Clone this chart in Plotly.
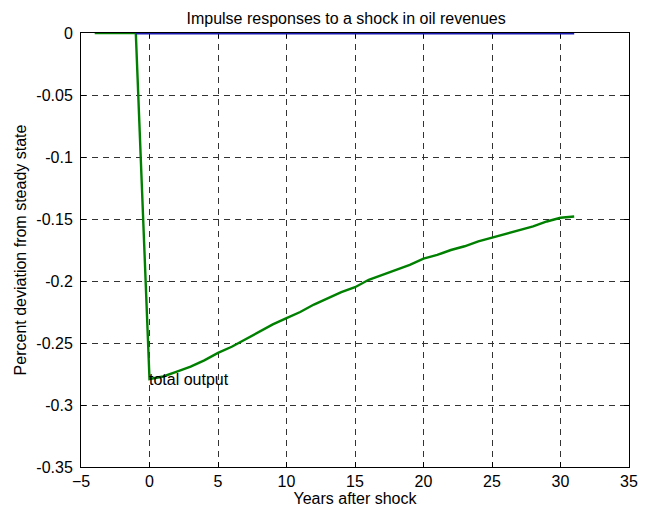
import plotly.graph_objects as go

pre_x = [-4, -3, -2, -1]
pre_y = [0, 0, 0, 0]
years = list(range(0, 32))
output = [-0.279, -0.277, -0.273, -0.269, -0.264, -0.258, -0.253, -0.247, -0.241, -0.235,
          -0.230, -0.225, -0.219, -0.214, -0.209, -0.205, -0.199, -0.195, -0.191, -0.187,
          -0.182, -0.179, -0.175, -0.172, -0.168, -0.165, -0.162, -0.159, -0.156, -0.152,
          -0.149, -0.148]
zero_x = [-1, 31]
zero_y = [0, 0]
xticks = [-5, 0, 5, 10, 15, 20, 25, 30, 35]
yticks = [0, -0.05, -0.1, -0.15, -0.2, -0.25, -0.3, -0.35]
ytick_text = ["0", "-0.05", "-0.1", "-0.15", "-0.2", "-0.25", "-0.3", "-0.35"]

FONT = "Liberation Sans, Arial, sans-serif"
FS = 16

fig = go.Figure()
fig.add_trace(go.Scatter(x=pre_x + years, y=pre_y + output, mode="lines",
                         line=dict(color="#008000", width=2.4), showlegend=False, cliponaxis=False))
fig.add_trace(go.Scatter(x=zero_x, y=zero_y, mode="lines", cliponaxis=False,
                         line=dict(color="#1a1ab0", width=3), showlegend=False))
fig.add_annotation(x=0, y=output[0], text="total output", showarrow=False,
                   xanchor="left", yanchor="middle", yshift=-1, xshift=-3,
                   font=dict(family=FONT, size=FS, color="black"))

axis_common = dict(showline=True, linecolor="black", linewidth=1, mirror="ticks",
                   ticks="inside", ticklen=5, tickcolor="black", automargin=False,
                   layer="below traces",
                   showgrid=True, gridcolor="#333333", gridwidth=1, griddash="6px,5px",
                   zeroline=False, tickfont=dict(family=FONT, size=FS, color="black"))

fig.update_layout(
    width=649, height=506,
    margin=dict(l=73, r=28, t=25, b=47),
    paper_bgcolor="white", plot_bgcolor="white",
    title=dict(text="Impulse responses to a shock in oil revenues", x=0.521, xanchor="center",
               y=0.99, yanchor="top", font=dict(family=FONT, size=FS, color="black")),
    xaxis=dict(range=[-5, 35], tickvals=xticks,
               title=dict(text="Years after shock", standoff=1,
                          font=dict(family=FONT, size=FS, color="black")), **axis_common),
    yaxis=dict(range=[-0.35, 0], tickvals=yticks, ticktext=ytick_text, ticklabelstandoff=4,
               title=dict(text="Percent deviation from steady state", standoff=5,
                          font=dict(family=FONT, size=FS, color="black")), **axis_common),
)
fig.write_html("out.html")
